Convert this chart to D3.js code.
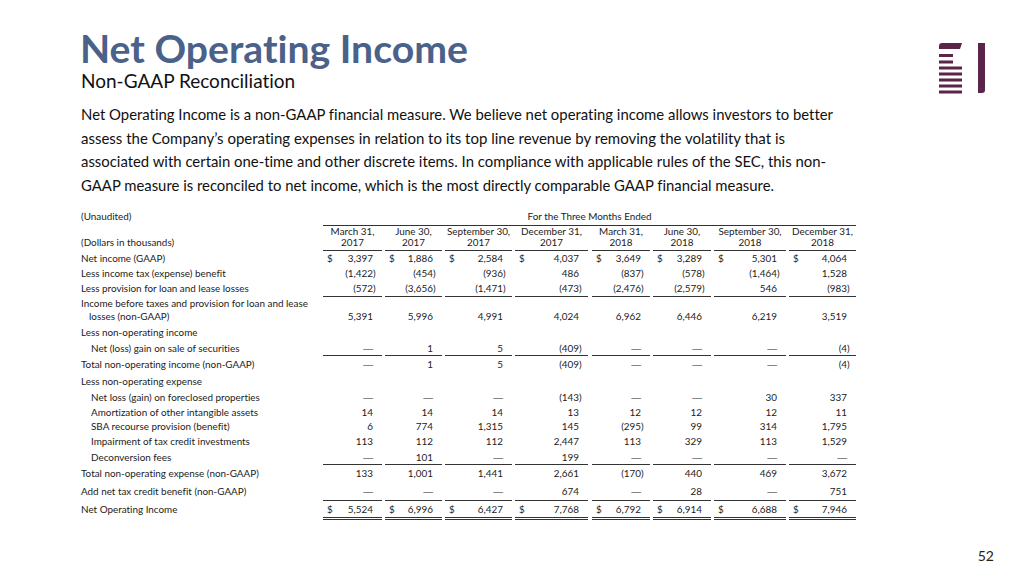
<!DOCTYPE html>
<html><head><meta charset="utf-8">
<script src="https://cdn.jsdelivr.net/npm/d3@7"></script>
<style>
html,body{margin:0;padding:0;background:#fff;}
svg{display:block;}
text{font-family:Lato,"Open Sans",sans-serif;font-variant-ligatures:none;font-feature-settings:"liga" 0,"clig" 0;}
text.dash{font-family:"Liberation Sans",sans-serif;}
</style></head>
<body>
<svg id="c" width="1024" height="576"></svg>
<script>
// ---------- DATA ----------
const title = "Net Operating Income";
const subtitle = "Non-GAAP Reconciliation";
const paragraph = [
  "Net Operating Income is a non-GAAP financial measure.  We believe net operating income allows investors to better",
  "assess the Company\u2019s operating expenses in relation to its top line revenue by removing the volatility that is",
  "associated with certain one-time and other discrete items. In compliance with applicable rules of the SEC, this non-",
  "GAAP measure is reconciled to net income, which is the most directly comparable GAAP financial measure."
];
const periodMonths = ["March 31,","June 30,","September 30,","December 31,","March 31,","June 30,","September 30,","December 31,"];
const periodYears = ["2017","2017","2017","2017","2018","2018","2018","2018"];
const netIncome = [3397,1886,2584,4037,3649,3289,5301,4064];
const incomeTax = [-1422,-454,-936,486,-837,-578,-1464,1528];
const provision = [-572,-3656,-1471,-473,-2476,-2579,546,-983];
const incomeBefore = [5391,5996,4991,4024,6962,6446,6219,3519];
const securitiesGain = [null,1,5,-409,null,null,null,-4];
const totalNonOpIncome = [null,1,5,-409,null,null,null,-4];
const foreclosed = [null,null,null,-143,null,null,30,337];
const amortization = [14,14,14,13,12,12,12,11];
const sbaProvision = [6,774,1315,145,-295,99,314,1795];
const impairment = [113,112,112,2447,113,329,113,1529];
const deconversion = [null,101,null,199,null,null,null,null];
const totalNonOpExpense = [133,1001,1441,2661,-170,440,469,3672];
const taxCreditBenefit = [null,null,null,674,null,28,null,751];
const netOperatingIncome = [5524,6996,6427,7768,6792,6914,6688,7946];
const pageNumber = "52";

// ---------- LAYOUT ----------
const svg = d3.select("#c");
const ink = "#1b1b1b";
const colEdges = [[323,382],[385,442],[445,512],[515,588],[592,650],[653,711],[714,786],[789,856]];
const colIdx = d3.range(periodMonths.length);
const colLeft = d3.scaleOrdinal().domain(colIdx).range(colEdges.map(d=>d[0]));
const colRight = d3.scaleOrdinal().domain(colIdx).range(colEdges.map(d=>d[1]));
const fmt = d3.format(",");

// title block
svg.append("text").attr("x",80).attr("y",63).attr("font-size",38).attr("font-weight",700)
  .attr("fill","#4a6189").attr("textLength",388).attr("lengthAdjust","spacingAndGlyphs").text(title);
svg.append("text").attr("x",81).attr("y",88).attr("font-size",19).attr("fill","#111").text(subtitle);
const paraTargets = [752,728,745,693];
svg.selectAll("text.para").data(paragraph).join("text").attr("class","para")
  .attr("x",81).attr("y",(d,i)=>120+i*23.7).attr("font-size",15).attr("fill","#111").text(d=>d)
  .each(function(d,i){ const w=this.getComputedTextLength(); if(w>paraTargets[i]) d3.select(this).attr("textLength",paraTargets[i]).attr("lengthAdjust","spacingAndGlyphs"); });

// logo
const logo = svg.append("g").attr("fill","#5b2549");
logo.append("path").attr("d","M939,49 L939,46 Q939,43 942,43 L962,43 L960,49 Z");
[[54,953],[60.5,953],[66.5,962],[72.5,962],[78.5,962],[84.5,962],[90.5,962]].forEach(s=>{
  logo.append("rect").attr("x",939).attr("y",s[0]).attr("width",s[1]-939).attr("height",3);
});
logo.append("path").attr("d","M978,43 L985,43 L985,90 Q985,93 982,93 L978,93 Z");

// page number
svg.append("text").attr("x",994).attr("y",561).attr("text-anchor","end").attr("font-size",14).attr("fill","#222").text(pageNumber);

// table header
const fs = 9.9;
const T = svg.append("g").attr("font-size",fs).attr("fill",ink);
T.append("text").attr("x",81).attr("y",220).text("(Unaudited)");
T.append("text").attr("x",(colLeft(0)+colRight(7))/2).attr("y",220).attr("text-anchor","middle").text("For the Three Months Ended");
T.append("line").attr("x1",colLeft(0)).attr("x2",colRight(7)).attr("y1",225.5).attr("y2",225.5).attr("stroke","#333").attr("stroke-width",1.2);
T.append("text").attr("x",81).attr("y",246).text("(Dollars in thousands)");
T.selectAll("text.hm").data(colIdx).join("text").attr("class","hm")
  .attr("x",i=>(colLeft(i)+colRight(i))/2).attr("y",235).attr("text-anchor","middle").text(i=>periodMonths[i]);
T.selectAll("text.hy").data(colIdx).join("text").attr("class","hy")
  .attr("x",i=>(colLeft(i)+colRight(i))/2).attr("y",246).attr("text-anchor","middle").text(i=>periodYears[i]);

function segLine(y, w){
  T.selectAll(null).data(colIdx).join("line").attr("x1",i=>colLeft(i)).attr("x2",i=>colRight(i))
    .attr("y1",y).attr("y2",y).attr("stroke","#333").attr("stroke-width",w||1);
}
segLine(250.5,1);

const rows = [
  {label:"Net income (GAAP)", values:netIncome, y:262, dollar:true},
  {label:"Less income tax (expense) benefit", values:incomeTax, y:277},
  {label:"Less provision for loan and lease losses", values:provision, y:292, below:296.5},
  {label:"Income before taxes and provision for loan and lease", y:307},
  {label:"losses (non-GAAP)", values:incomeBefore, y:320, indent:8},
  {label:"Less non-operating income", y:336},
  {label:"Net (loss) gain on sale of securities", values:securitiesGain, y:352, indent:10, below:355.5},
  {label:"Total non-operating income (non-GAAP)", values:totalNonOpIncome, y:368},
  {label:"Less non-operating expense", y:385},
  {label:"Net loss (gain) on foreclosed properties", values:foreclosed, y:401, indent:10},
  {label:"Amortization of other intangible assets", values:amortization, y:416, indent:10},
  {label:"SBA recourse provision (benefit)", values:sbaProvision, y:430, indent:10},
  {label:"Impairment of tax credit investments", values:impairment, y:445, indent:10},
  {label:"Deconversion fees", values:deconversion, y:461, indent:10, below:464.5},
  {label:"Total non-operating expense (non-GAAP)", values:totalNonOpExpense, y:477},
  {label:"Add net tax credit benefit (non-GAAP)", values:taxCreditBenefit, y:495, below:500.5},
  {label:"Net Operating Income", values:netOperatingIncome, y:513, dollar:true, dbl:true}
];

rows.forEach(r=>{
  T.append("text").attr("x",81+(r.indent||0)).attr("y",r.y).text(r.label);
  if(!r.values) return;
  const g = T.append("g");
  g.selectAll("text.v").data(colIdx).join("text")
    .attr("class",i=>r.values[i]===null?"v dash":"v")
    .attr("x",i=>colRight(i)-9).attr("y",r.y).attr("text-anchor","end")
    .text(i=>{const v=r.values[i]; if(v===null) return "\u2014"; return v<0?"("+fmt(-v):fmt(v);});
  g.selectAll("text.p").data(colIdx.filter(i=>r.values[i]!==null && r.values[i]<0)).join("text").attr("class","p")
    .attr("x",i=>colRight(i)-9).attr("y",r.y).text(")");
  if(r.dollar){
    g.selectAll("text.d").data(colIdx).join("text").attr("class","d")
      .attr("x",i=>colLeft(i)+4).attr("y",r.y).text("$");
  }
  if(r.below) segLine(r.below,1);
  if(r.dbl){ segLine(517.5,1); segLine(519.5,1); }
});
</script>
</body></html>
